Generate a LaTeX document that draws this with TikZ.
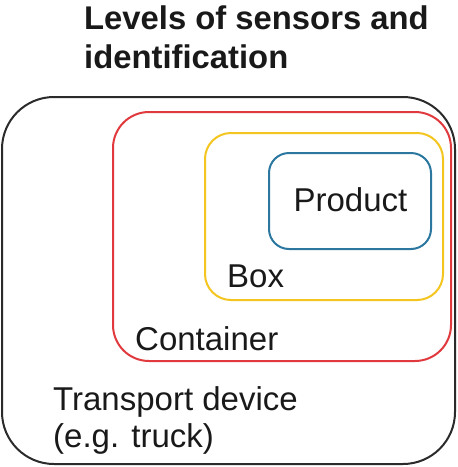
\documentclass[tikz,border=0pt]{standalone}
\usepackage{fontspec}
\setmainfont{Liberation Sans}
\definecolor{cblack}{HTML}{2B2B2B}
\definecolor{cred}{HTML}{E0393E}
\definecolor{cyellow}{HTML}{F4C51E}
\definecolor{cblue}{HTML}{2B77A0}
\begin{document}
\begin{tikzpicture}[x=1pt,y=-1pt,
  level/.style={draw, line width=2pt, minimum width=#1, inner sep=0pt, outer sep=0pt},
  lbl/.style={inner sep=0pt, anchor=base west, font=\fontsize{33}{39}\selectfont, text=black!90},
  ttl/.style={inner sep=0pt, anchor=base west, font=\fontsize{32.8}{39}\selectfont\bfseries, text=black!90}]
\useasboundingbox (0,0) rectangle (458,467);
\node[level=453pt, minimum height=367pt, draw=cblack, rounded corners=52pt] (truck) at (228.5,280.5) {};
\node[level=338pt, minimum height=249pt, draw=cred, rounded corners=36pt] (container) at (282,236.5) {};
\node[level=238pt, minimum height=167pt, draw=cyellow, rounded corners=26pt] (box) at (324,216.5) {};
\node[level=162pt, minimum height=96pt, draw=cblue, rounded corners=20pt] (product) at (350,201) {};
\node[lbl, anchor=base] (tproduct) at (350.5,211) {Product};
\node[lbl] (tbox) at (227,287) {Box};
\node[lbl] (tcontainer) at (135,350) {Container};
\node[lbl] (ttruck1) at (53,410) {Transport device};
\node[lbl] (ttruck2) at (53,447) {(e.g. truck)};
\node[ttl] (title1) at (84,29) {Levels of sensors and};
\node[ttl] (title2) at (84,68) {identification};
\end{tikzpicture}
\end{document}
